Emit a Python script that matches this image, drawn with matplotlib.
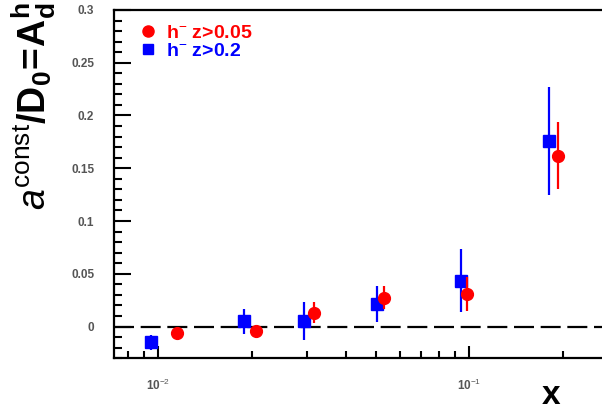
import numpy as np
import matplotlib
matplotlib.use("Agg")
import matplotlib.pyplot as plt
import matplotlib.lines as mlines
from matplotlib.ticker import LogLocator, MultipleLocator, FixedLocator, NullFormatter

plt.rcParams["font.family"] = ["Liberation Sans", "DejaVu Sans"]
plt.rcParams["mathtext.fontset"] = "custom"
plt.rcParams["mathtext.rm"] = "Liberation Sans"
plt.rcParams["mathtext.it"] = "Liberation Sans:italic"
plt.rcParams["mathtext.bf"] = "Liberation Sans:bold"

# h- z>0.05 (red circles)
x_red = [0.0115, 0.0206, 0.0316, 0.053, 0.098, 0.192]
y_red = [-0.0057, -0.004, 0.013, 0.0275, 0.031, 0.162]
e_red = [0.003, 0.004, 0.010, 0.011, 0.016, 0.032]

# h- z>0.2 (blue squares)
x_blue = [0.0095, 0.0188, 0.0293, 0.0505, 0.094, 0.180]
y_blue = [-0.015, 0.005, 0.005, 0.021, 0.0435, 0.176]
e_blue = [0.007, 0.012, 0.018, 0.017, 0.030, 0.051]

fig = plt.figure(figsize=(6.02, 4.16), dpi=100)
ax = fig.add_axes([0.189, 0.139, 0.83, 0.837])

ax.axhline(0, color="black", lw=1.6, dashes=(9, 3), zorder=1)

ax.errorbar(x_red, y_red, yerr=e_red, fmt="o", color="red", ms=8.5,
            elinewidth=1.6, capsize=0, zorder=3)
ax.errorbar(x_blue, y_blue, yerr=e_blue, fmt="s", color="blue", ms=8,
            elinewidth=1.6, capsize=0, zorder=2)

ax.set_xscale("log")
ax.set_xlim(0.0072, 0.29)
ax.set_ylim(-0.03, 0.3)

ax.xaxis.set_major_locator(FixedLocator([0.01, 0.1]))
ax.xaxis.set_minor_locator(LogLocator(base=10, subs=np.arange(2, 10)))
ax.xaxis.set_minor_formatter(NullFormatter())
ax.set_xticklabels(["10$^{-2}$", "10$^{-1}$"])
ax.yaxis.set_minor_locator(MultipleLocator(0.01))
ax.set_yticks([0, 0.05, 0.1, 0.15, 0.2, 0.25, 0.3])
ax.set_yticklabels(["0", "0.05", "0.1", "0.15", "0.2", "0.25", "0.3"])

ax.tick_params(which="major", direction="in", length=12, width=1.5,
               labelsize=8.5, labelcolor="#555555", pad=14)
ax.tick_params(which="minor", direction="in", length=6, width=1.5)
ax.tick_params(axis="x", which="major", length=9, pad=14)
ax.tick_params(axis="x", which="minor", length=5)
for lab in ax.get_xticklabels() + ax.get_yticklabels():
    lab.set_fontweight("bold")

for side in ["left", "bottom", "top"]:
    ax.spines[side].set_linewidth(1.6)
ax.spines["right"].set_visible(False)

fig.text(0.055, 0.995, r"$\mathit{a}^{\mathrm{const}}\mathbf{/D_0\!=\!A_d^h}$",
         rotation=90, ha="center", va="top", fontsize=27)
fig.text(0.915, 0.03, "x", fontsize=24, fontweight="bold", ha="center")

red_h = mlines.Line2D([], [], color="red", marker="o", linestyle="None",
                      markersize=8, label="h$^{-}$ z>0.05")
blue_h = mlines.Line2D([], [], color="blue", marker="s", linestyle="None",
                       markersize=7, label="h$^{-}$ z>0.2")
ax.legend(handles=[red_h, blue_h], loc="upper left", frameon=False,
          bbox_to_anchor=(0.026, 0.986),
          handletextpad=0.3, labelspacing=0.0, borderaxespad=0.2,
          borderpad=0.3, handlelength=1.2, labelcolor="linecolor",
          prop={"size": 14, "weight": "bold"})

fig.savefig("out.png", dpi=100)
